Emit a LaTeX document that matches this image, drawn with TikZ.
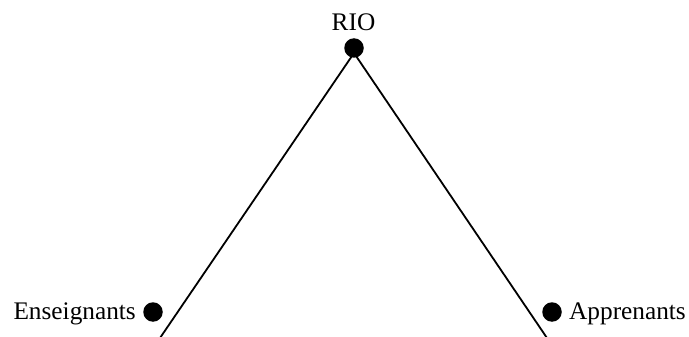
\documentclass[tikz,border=0pt]{standalone}
\usepackage{fontspec}
\setmainfont{Liberation Serif}
\begin{document}
\begin{tikzpicture}[x=1pt,y=-1pt,
  dot/.style={circle,fill=black,inner sep=0pt,minimum size=19.5pt},
  lbl/.style={inner sep=0pt,font=\fontsize{25.3}{30}\selectfont},
  edge/.style={line width=1.8pt}]
\useasboundingbox (0,0) rectangle (689,337);
\coordinate (apex) at (354,53);
\coordinate (bl) at (160,338);
\coordinate (br) at (547,338);
\draw[edge] (bl) -- (apex) -- (br);
\node[dot] (rio) at (354,48) {};
\node[lbl, anchor=base] (riolbl) at (353.5,31) {RIO};
\node[dot] (ens) at (153,312) {};
\node[lbl, anchor=base east] (enslbl) at (136,319.5) {Enseignants};
\node[dot] (app) at (552,312) {};
\node[lbl, anchor=base west] (applbl) at (569,319.5) {Apprenants};
\end{tikzpicture}
\end{document}
